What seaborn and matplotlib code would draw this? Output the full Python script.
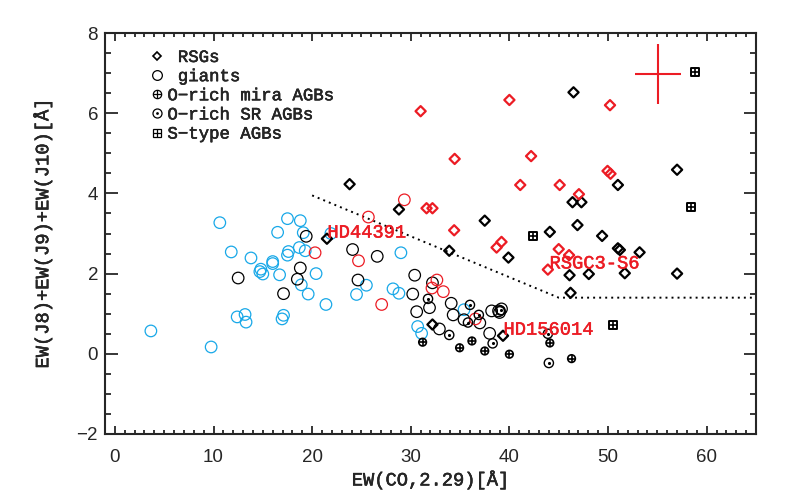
import numpy as np
import pandas as pd
import matplotlib
matplotlib.use("Agg")
import matplotlib.pyplot as plt
import matplotlib.patheffects as pe
from matplotlib.lines import Line2D
import seaborn as sns

# --- data ---
rsg_black_x = [23.8, 28.8, 21.5, 33.9, 37.5, 39.9, 32.2, 39.35, 44.1, 46.5, 51.0, 46.4, 47.3, 57.0,
               46.9, 49.4, 51.0, 51.2, 53.2, 57.0, 51.7, 48.05, 46.1, 46.2]
rsg_black_y = [4.23, 3.60, 2.87, 2.57, 3.32, 2.40, 0.73, 0.45, 3.04, 6.52, 4.21, 3.78, 3.78, 4.59,
               3.21, 2.94, 2.63, 2.59, 2.53, 2.00, 2.01, 1.99, 1.96, 1.52]
rsg_red_x = [31.0, 40.0, 50.2, 34.45, 42.2, 41.1, 45.1, 49.95, 50.25, 47.05, 31.6, 32.2, 34.4,
             39.2, 38.7, 45.0, 46.05, 43.9]
rsg_red_y = [6.05, 6.33, 6.20, 4.86, 4.93, 4.21, 4.21, 4.56, 4.49, 3.98, 3.63, 3.63, 3.08,
             2.79, 2.65, 2.61, 2.46, 2.10]
giant_red_x = [29.35, 25.7, 20.3, 24.7, 27.05, 32.65, 32.15, 33.3, 36.55]
giant_red_y = [3.84, 3.41, 2.52, 2.32, 1.23, 1.84, 1.64, 1.55, 0.87]
giant_blue_x = [10.64, 17.5, 18.8, 16.5, 19.1, 11.8, 13.8, 17.6, 17.5, 18.7, 19.3, 16.0, 16.0,
                14.8, 14.7, 15.0, 16.7, 20.4, 18.9, 19.6, 21.4, 12.4, 13.2, 13.3, 16.95, 17.1,
                3.65, 9.76, 21.9, 29.0, 25.5, 24.5, 28.2, 28.8, 30.7, 31.1, 35.4]
giant_blue_y = [3.27, 3.37, 3.32, 3.03, 3.02, 2.54, 2.39, 2.55, 2.46, 2.65, 2.57, 2.30, 2.25,
                2.11, 2.05, 1.99, 1.97, 2.00, 1.72, 1.49, 1.23, 0.92, 0.98, 0.79, 0.87, 0.96,
                0.57, 0.17, 3.00, 2.52, 1.71, 1.48, 1.62, 1.51, 0.68, 0.51, 1.10]
giant_black_x = [19.4, 18.8, 18.5, 12.5, 17.1, 24.1, 26.6, 24.65, 30.4, 32.2, 30.2, 31.9, 30.6,
                 34.1, 34.3, 35.4, 37.0, 38.2, 38.9, 39.2, 39.0, 32.9, 38.0]
giant_black_y = [2.93, 2.14, 1.86, 1.89, 1.50, 2.60, 2.43, 1.84, 1.96, 1.77, 1.49, 1.15, 1.05,
                 1.26, 0.97, 0.85, 0.77, 1.07, 1.07, 1.12, 1.03, 0.62, 0.51]
mira_x = [31.2, 34.95, 36.2, 37.5, 40.0, 44.1, 46.3]
mira_y = [0.29, 0.15, 0.32, 0.07, -0.01, 0.27, -0.12]
sr_x = [31.75, 36.0, 36.9, 35.8, 33.9, 38.3, 43.9, 44.0, 39.1]
sr_y = [1.37, 1.22, 0.97, 0.78, 0.47, 0.26, 0.50, -0.23, 1.08]
stype_x = [58.8, 58.4, 42.4, 50.5]
stype_y = [7.02, 3.66, 2.93, 0.71]

# dividing line and typical error bar
line_x = [20.0, 45.0, 65.0]
line_y = [3.95, 1.40, 1.40]
err_x, err_y, err_dx, err_dy = 55.05, 6.98, 2.36, 0.75

labels = [("HD44391", 21.55, 3.01), ("RSGC3-S6", 44.07, 2.24), ("HD156014", 39.4, 0.59)]

RED = "#EC1C24"
BLUE = "#18A8E8"
MONO = ["Liberation Mono", "DejaVu Sans Mono"]

sns.set_style("ticks")
plt.rcParams["font.family"] = ["Liberation Sans", "DejaVu Sans"]

fig = plt.figure(figsize=(7.86, 5.0), dpi=100)
ax = fig.add_axes([0.1336, 0.132, 0.8282, 0.802])

def circles(x, y, color, s=69, lw=0.9):
    sns.scatterplot(x=x, y=y, ax=ax, marker="o", s=s, facecolor="none",
                    edgecolor=color, linewidth=lw, zorder=3)

def diamonds(x, y, color):
    sns.scatterplot(x=x, y=y, ax=ax, marker="D", s=27, facecolor="none",
                    edgecolor=color, linewidth=1.6, zorder=4)

def thicken(color):
    # regular mono face looks too thin next to the original, bold too heavy
    return [pe.withStroke(linewidth=0.35, foreground=color)]

circles(giant_blue_x, giant_blue_y, BLUE)
circles(giant_black_x, giant_black_y, "black")
circles(giant_red_x, giant_red_y, RED)
diamonds(rsg_black_x, rsg_black_y, "black")
diamonds(rsg_red_x, rsg_red_y, RED)

# O-rich mira: circle with plus
circles(mira_x, mira_y, "black", s=30, lw=1.2)
sns.scatterplot(x=mira_x, y=mira_y, ax=ax, marker="+", s=30, color="black", linewidth=1.2, zorder=4)
# O-rich SR: circle with dot
circles(sr_x, sr_y, "black", s=44, lw=1.0)
sns.scatterplot(x=sr_x, y=sr_y, ax=ax, marker="o", s=5, color="black", linewidth=0, zorder=4)
# S-type: square with plus
sns.scatterplot(x=stype_x, y=stype_y, ax=ax, marker="s", s=34, facecolor="none",
                edgecolor="black", linewidth=1.4, zorder=4)
sns.scatterplot(x=stype_x, y=stype_y, ax=ax, marker="+", s=34, color="black", linewidth=1.2, zorder=4)

ax.plot(line_x, line_y, color="black", lw=1.4, linestyle=(0, (1, 2.1)), zorder=2)
ax.errorbar([err_x], [err_y], xerr=[err_dx], yerr=[err_dy], fmt="none", ecolor=RED,
            elinewidth=1.5, capsize=0)

for txt, tx, ty in labels:
    ax.text(tx, ty, txt, color=RED, fontsize=13.5, family=MONO,
            va="center", ha="left", zorder=5, path_effects=thicken(RED))

ax.set_xlim(-1, 65)
ax.set_ylim(-2, 8)
ax.set_xticks(np.arange(0, 61, 10))
ax.set_yticks(np.arange(-2, 9, 2))
ax.set_xticks(np.arange(-1, 66, 1), minor=True)
ax.set_yticks(np.arange(-2, 8.01, 0.5), minor=True)

for side in ["top", "right", "bottom", "left"]:
    ax.spines[side].set_visible(True)
    ax.spines[side].set_linewidth(1.5)
ax.tick_params(axis="both", which="both", direction="in", top=True, right=True,
               width=1.1, color="black", labelsize=13.5)
ax.tick_params(axis="x", which="major", length=6, pad=11)
ax.tick_params(axis="x", which="minor", length=3)
ax.tick_params(axis="y", which="major", length=9, pad=5)
ax.tick_params(axis="y", which="minor", length=4.5)

ax.set_xlabel("EW(CO,2.29)[Å]", fontsize=13.5, family=MONO, labelpad=3,
              path_effects=thicken("black"))
ax.set_ylabel("EW(J8)+EW(J9)+EW(J10)[Å]", fontsize=13.5, family=MONO, labelpad=17.5,
              path_effects=thicken("black"))

handles = [
    Line2D([], [], ls="none", marker="D", ms=4.5, mfc="none", mec="black", mew=1.2),
    Line2D([], [], ls="none", marker="o", ms=7, mfc="none", mec="black", mew=0.9),
    (Line2D([], [], ls="none", marker="o", ms=6, mfc="none", mec="black", mew=0.9),
     Line2D([], [], ls="none", marker="+", ms=6, mec="black", mew=0.9)),
    (Line2D([], [], ls="none", marker="o", ms=6.5, mfc="none", mec="black", mew=0.9),
     Line2D([], [], ls="none", marker="o", ms=2, mfc="black", mec="black", mew=0)),
    (Line2D([], [], ls="none", marker="s", ms=6, mfc="none", mec="black", mew=0.9),
     Line2D([], [], ls="none", marker="+", ms=6, mec="black", mew=0.9)),
]
names = [" RSGs", " giants", "O\u2212rich mira AGBs", "O\u2212rich SR AGBs", "S\u2212type AGBs"]
leg = ax.legend(handles, names, loc="upper left", bbox_to_anchor=(0.0716, 0.958), frameon=False,
                borderpad=0, borderaxespad=0, handlelength=0.6, handletextpad=0.31,
                labelspacing=0.23, prop={"family": MONO, "size": 12.5})
for t in leg.get_texts():
    t.set_path_effects(thicken("black"))

fig.savefig("out.png", dpi=100)
